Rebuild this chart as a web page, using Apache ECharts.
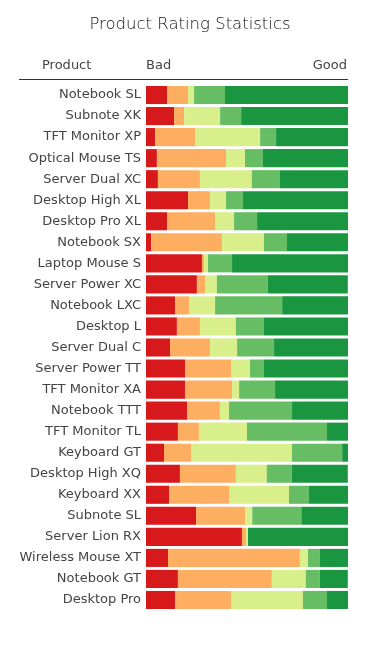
<!DOCTYPE html>
<html><head><meta charset="utf-8">
<script src="https://cdn.jsdelivr.net/npm/echarts@6/dist/echarts.min.js"></script>
<style>html,body{margin:0;padding:0;background:#fff}#c{width:380px;height:650px}</style>
</head><body><div id="c"></div>
<script>
const products = ["Notebook SL","Subnote XK","TFT Monitor XP","Optical Mouse TS","Server Dual XC","Desktop High XL","Desktop Pro XL","Notebook SX","Laptop Mouse S","Server Power XC","Notebook LXC","Desktop L","Server Dual C","Server Power TT","TFT Monitor XA","Notebook TTT","TFT Monitor TL","Keyboard GT","Desktop High XQ","Keyboard XX","Subnote SL","Server Lion RX","Wireless Mouse XT","Notebook GT","Desktop Pro"];
const rating1 = [10.4,13.9,4.5,5.4,5.9,20.8,10.4,2.5,27.7,25.2,14.4,15.3,11.9,19.3,19.3,20.3,15.8,8.9,16.8,11.4,24.8,47.5,10.9,15.8,14.4];
const rating2 = [10.4,5.0,19.8,34.2,20.8,10.9,23.8,35.1,1.0,4.0,6.9,11.4,19.8,22.8,23.3,16.3,10.4,13.4,27.7,29.7,24.3,2.0,65.3,46.5,27.7];
const rating3 = [3.0,17.8,32.2,9.4,25.7,7.9,9.4,20.8,2.0,5.9,12.9,17.8,13.4,9.4,3.5,4.5,23.8,50.0,15.3,29.7,3.5,1.0,4.0,16.8,35.6];
const rating4 = [15.3,10.4,7.9,8.9,13.9,8.4,11.4,11.4,11.9,25.2,33.2,13.9,18.3,6.9,17.8,31.2,39.6,24.8,12.4,9.9,24.3,0,5.9,6.9,11.9];
const rating5 = [60.9,53.0,35.6,42.1,33.7,52.0,45.0,30.2,57.4,39.6,32.7,41.6,36.6,41.6,36.1,27.7,10.4,3.0,27.7,19.3,23.3,49.5,13.9,13.9,10.4];
const headerLabels = ["Product","Bad","Good"];
const titleText = "Product Rating Statistics";

const colors = ["#d7191c","#fdae61","#d9ef8b","#66bd63","#1a9641"];
const seriesData = [rating1,rating2,rating3,rating4,rating5];
const font = "DejaVu Sans";
const txt = '#444';
const lbl = 'normal 13px "DejaVu Sans"';
const chart = echarts.init(document.getElementById('c'), null, {renderer:'canvas'});
chart.setOption({
  animation:false,
  backgroundColor:'#fff',
  title:{text:titleText,left:'center',top:11,textStyle:{fontFamily:font,fontSize:16.5,fontWeight:200,color:'#111'}},
  grid:{left:146,right:32,top:84.5,bottom:39.5,containLabel:false},
  xAxis:{type:'value',min:0,max:100,show:false},
  yAxis:{type:'category',data:products,inverse:true,axisLine:{show:false},axisTick:{show:false},
    axisLabel:{fontFamily:font,fontSize:13,fontWeight:'normal',color:txt,margin:5}},
  graphic:[
    {type:'text',left:42,top:59,style:{text:headerLabels[0],font:lbl,fill:txt}},
    {type:'text',left:146,top:59,style:{text:headerLabels[1],font:lbl,fill:txt}},
    {type:'text',right:33,top:59,style:{text:headerLabels[2],font:lbl,fill:txt}},
    {type:'line',shape:{x1:19,y1:79.5,x2:348,y2:79.5},style:{stroke:'#333',lineWidth:1}}
  ],
  series:seriesData.map((d,i)=>({type:'bar',stack:'r',data:d,barCategoryGap:'14%',itemStyle:{color:colors[i]},silent:true}))
});
</script></body></html>
